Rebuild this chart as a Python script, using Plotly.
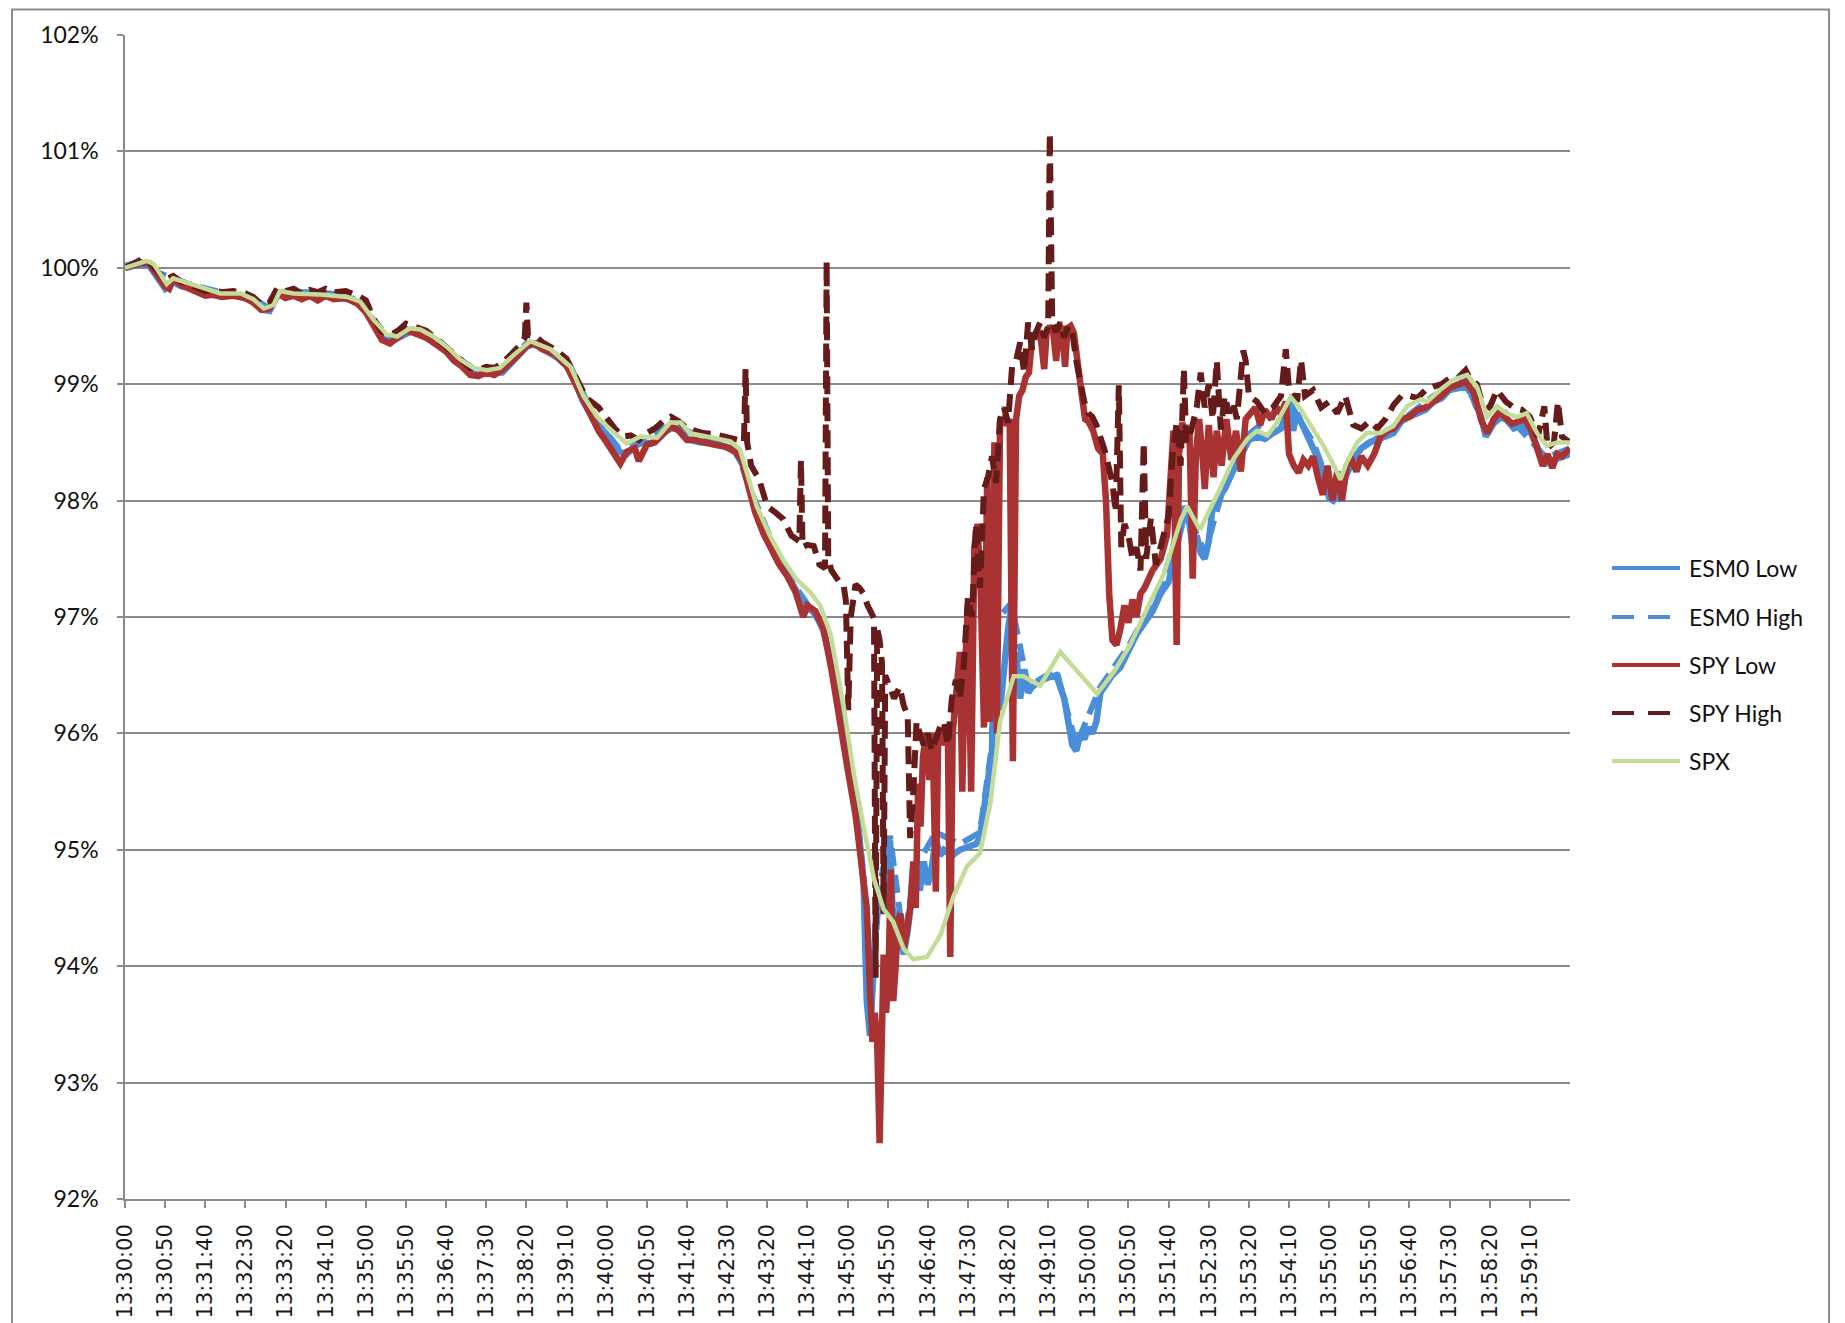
import plotly.graph_objects as go

START = "13:30:00"
TICK_LABELS = ["13:30:00", "13:30:50", "13:31:40", "13:32:30", "13:33:20", "13:34:10",
               "13:35:00", "13:35:50", "13:36:40", "13:37:30", "13:38:20", "13:39:10",
               "13:40:00", "13:40:50", "13:41:40", "13:42:30", "13:43:20", "13:44:10",
               "13:45:00", "13:45:50", "13:46:40", "13:47:30", "13:48:20", "13:49:10",
               "13:50:00", "13:50:50", "13:51:40", "13:52:30", "13:53:20", "13:54:10",
               "13:55:00", "13:55:50", "13:56:40", "13:57:30", "13:58:20", "13:59:10"]
END = "14:00:00"

# (seconds after 13:30:00, % of start level)
ESM0_LOW = [(0,100.00),(10,100.01),(20,100.03),(30,100.02),(40,99.93),(50,99.82),(60,99.88),(70,99.84),(80,99.83),(100,99.77),(120,99.76),(140,99.76),(160,99.71),(170,99.64),(180,99.63),(190,99.76),(200,99.77),(220,99.75),(240,99.76),(260,99.74),(280,99.73),(295,99.68),(310,99.52),(320,99.40),(330,99.36),(340,99.40),(355,99.45),(370,99.45),(385,99.37),(400,99.29),(415,99.19),(430,99.10),(440,99.08),(455,99.10),(470,99.10),(485,99.22),(500,99.32),(510,99.35),(525,99.28),(540,99.22),(555,99.12),(570,98.86),(585,98.68),(600,98.57),(615,98.42),(625,98.40),(635,98.47),(645,98.50),(655,98.49),(670,98.58),(680,98.62),(690,98.62),(700,98.53),(715,98.50),(730,98.49),(745,98.47),(760,98.42),(770,98.30),(780,98.05),(790,97.85),(800,97.68),(810,97.55),(820,97.42),(830,97.30),(840,97.18),(850,97.08),(860,97.03),(870,96.88),(880,96.60),(890,96.25),(900,95.90),(910,95.50),(915,95.10),(920,94.70),(924,93.70),(928,93.40),(932,93.90),(936,94.50),(940,94.60),(945,94.45),(950,94.70),(953,95.08),(956,94.50),(960,94.40),(965,94.30),(970,94.10),(975,94.30),(980,94.60),(985,94.80),(990,94.65),(995,94.90),(1000,94.70),(1005,94.85),(1010,95.10),(1015,94.95),(1020,95.00),(1030,94.95),(1040,95.00),(1050,95.02),(1060,95.05),(1065,95.10),(1070,95.35),(1075,95.60),(1080,95.85),(1083,96.90),(1086,96.40),(1090,96.20),(1095,96.60),(1100,96.90),(1104,97.08),(1107,96.50),(1110,96.70),(1115,96.30),(1120,96.55),(1125,96.35),(1130,96.40),(1140,96.45),(1150,96.48),(1160,96.50),(1165,96.40),(1170,96.30),(1175,96.10),(1180,95.90),(1185,95.85),(1190,96.00),(1195,95.95),(1200,96.05),(1205,96.00),(1210,96.10),(1215,96.35),(1220,96.40),(1230,96.50),(1240,96.57),(1250,96.70),(1260,96.85),(1270,96.95),(1280,97.05),(1290,97.20),(1300,97.30),(1310,97.60),(1320,97.90),(1325,97.85),(1330,97.60),(1335,97.70),(1340,97.55),(1345,97.50),(1350,97.65),(1355,97.95),(1360,98.00),(1370,98.10),(1380,98.25),(1390,98.40),(1400,98.52),(1410,98.55),(1420,98.53),(1430,98.58),(1440,98.62),(1450,98.80),(1455,98.60),(1460,98.75),(1470,98.60),(1480,98.45),(1490,98.30),(1495,98.18),(1500,98.02),(1505,98.00),(1510,98.05),(1515,98.00),(1520,98.20),(1530,98.35),(1540,98.45),(1550,98.50),(1560,98.52),(1570,98.55),(1580,98.58),(1590,98.68),(1600,98.72),(1610,98.75),(1620,98.78),(1630,98.85),(1640,98.88),(1650,98.95),(1660,98.97),(1670,98.98),(1680,98.90),(1690,98.70),(1695,98.55),(1700,98.60),(1710,98.72),(1720,98.70),(1730,98.62),(1740,98.65),(1750,98.60),(1760,98.45),(1770,98.32),(1780,98.35),(1790,98.38),(1800,98.40)]

ESM0_HIGH = [(0,100.02),(20,100.05),(40,99.96),(60,99.91),(80,99.86),(120,99.79),(160,99.74),(175,99.67),(190,99.79),(240,99.79),(280,99.76),(310,99.55),(330,99.39),(355,99.48),(385,99.40),(415,99.22),(440,99.11),(470,99.13),(500,99.35),(525,99.31),(555,99.15),(585,98.71),(615,98.45),(635,98.50),(680,98.65),(730,98.52),(760,98.45),(780,98.08),(810,97.58),(840,97.21),(870,96.91),(900,95.95),(920,94.80),(928,93.50),(940,94.70),(953,95.12),(970,94.20),(985,94.85),(1010,95.15),(1040,95.05),(1065,95.15),(1080,95.90),(1083,96.95),(1104,97.12),(1125,96.40),(1160,96.55),(1185,95.90),(1215,96.40),(1250,96.75),(1290,97.25),(1320,97.95),(1345,97.55),(1370,98.15),(1400,98.57),(1450,98.85),(1480,98.50),(1505,98.05),(1530,98.40),(1580,98.63),(1630,98.90),(1670,99.03),(1695,98.60),(1720,98.75),(1770,98.37),(1800,98.45)]

SPY_LOW = [(0,100.00),(10,100.02),(20,100.04),(30,100.04),(40,99.95),(50,99.84),(55,99.82),(60,99.90),(70,99.85),(80,99.82),(90,99.80),(100,99.76),(110,99.77),(120,99.75),(135,99.76),(150,99.74),(160,99.70),(170,99.64),(180,99.65),(190,99.78),(200,99.74),(210,99.76),(220,99.73),(230,99.76),(240,99.72),(250,99.76),(260,99.73),(275,99.74),(290,99.69),(300,99.62),(310,99.50),(320,99.38),(330,99.35),(340,99.40),(350,99.46),(360,99.44),(375,99.40),(390,99.33),(400,99.28),(410,99.20),(420,99.15),(430,99.08),(440,99.07),(450,99.10),(460,99.08),(470,99.12),(480,99.18),(490,99.25),(500,99.33),(510,99.35),(520,99.30),(535,99.26),(550,99.16),(565,98.95),(575,98.78),(590,98.60),(600,98.50),(610,98.40),(617,98.32),(625,98.42),(635,98.45),(640,98.34),(650,98.48),(660,98.50),(670,98.58),(680,98.64),(690,98.60),(700,98.52),(710,98.52),(720,98.50),(735,98.48),(750,98.46),(760,98.42),(768,98.35),(775,98.15),(785,97.90),(795,97.72),(805,97.58),(815,97.45),(825,97.35),(835,97.22),(845,97.00),(850,97.10),(860,97.05),(870,96.90),(880,96.55),(890,96.10),(900,95.70),(910,95.30),(920,94.80),(924,94.50),(928,93.80),(931,93.35),(934,93.60),(937,93.34),(940,92.48),(942,93.40),(945,94.10),(948,93.60),(951,93.90),(954,94.83),(957,93.70),(960,94.00),(963,94.40),(966,94.45),(970,94.15),(974,94.30),(978,94.50),(982,94.90),(985,94.50),(988,95.57),(991,95.20),(994,95.80),(998,96.00),(1002,95.60),(1006,96.00),(1010,94.64),(1013,95.95),(1017,96.05),(1021,95.90),(1025,96.00),(1028,94.08),(1031,96.00),(1035,96.40),(1040,96.70),(1043,95.50),(1046,96.50),(1050,97.10),(1054,95.50),(1058,97.60),(1062,97.80),(1066,97.20),(1070,96.05),(1074,98.20),(1077,96.10),(1080,96.60),(1083,98.50),(1086,96.00),(1090,98.67),(1094,98.70),(1098,98.65),(1102,98.70),(1106,95.76),(1110,98.70),(1114,98.90),(1118,98.95),(1122,99.06),(1126,99.10),(1130,99.40),(1135,99.44),(1140,99.44),(1145,99.13),(1148,99.44),(1152,99.50),(1156,99.46),(1160,99.20),(1163,99.45),(1167,99.50),(1171,99.15),(1174,99.48),(1178,99.50),(1182,99.44),(1188,99.05),(1192,98.90),(1196,98.70),(1200,98.68),(1206,98.60),(1212,98.45),(1218,98.40),(1222,98.00),(1226,97.20),(1230,96.80),(1235,96.76),(1240,96.90),(1245,97.10),(1250,96.95),(1255,97.15),(1260,97.00),(1265,97.20),(1270,97.25),(1280,97.40),(1290,97.50),(1298,97.70),(1302,98.30),(1306,98.60),(1310,96.76),(1313,98.40),(1317,98.67),(1322,98.50),(1326,98.60),(1330,97.33),(1334,98.40),(1338,98.70),(1342,98.40),(1345,98.10),(1350,98.65),(1356,98.20),(1360,98.60),(1366,98.30),(1372,98.70),(1378,98.35),(1384,98.60),(1390,98.25),(1396,98.70),(1402,98.75),(1408,98.80),(1414,98.65),(1420,98.78),(1428,98.70),(1434,98.80),(1440,98.75),(1446,98.85),(1450,98.40),(1456,98.30),(1462,98.24),(1468,98.35),(1474,98.30),(1480,98.38),(1486,98.20),(1492,98.05),(1498,98.30),(1504,98.00),(1510,98.25),(1516,98.00),(1522,98.30),(1528,98.35),(1534,98.25),(1540,98.38),(1548,98.30),(1556,98.40),(1564,98.55),(1572,98.60),(1580,98.62),(1590,98.70),(1600,98.72),(1610,98.78),(1620,98.80),(1630,98.85),(1640,98.90),(1650,98.97),(1660,99.00),(1670,99.02),(1680,98.93),(1690,98.68),(1697,98.58),(1705,98.70),(1712,98.76),(1720,98.70),(1728,98.66),(1736,98.68),(1744,98.70),(1752,98.60),(1760,98.44),(1766,98.30),(1772,98.40),(1778,98.28),(1784,98.40),(1790,98.38),(1800,98.45)]

SPY_HIGH = [(0,100.00),(10,100.04),(20,100.07),(30,100.05),(40,99.97),(50,99.90),(60,99.93),(70,99.88),(80,99.86),(90,99.83),(100,99.80),(110,99.81),(120,99.79),(135,99.80),(150,99.78),(160,99.75),(170,99.68),(180,99.70),(190,99.83),(200,99.80),(210,99.82),(220,99.78),(230,99.81),(240,99.79),(250,99.82),(260,99.79),(275,99.80),(290,99.76),(300,99.72),(310,99.56),(320,99.45),(330,99.42),(340,99.46),(350,99.52),(360,99.50),(375,99.46),(390,99.38),(400,99.32),(410,99.25),(420,99.19),(430,99.14),(440,99.12),(450,99.15),(460,99.14),(470,99.18),(480,99.25),(490,99.32),(498,99.40),(500,99.70),(502,99.42),(510,99.42),(520,99.36),(535,99.30),(550,99.22),(565,99.02),(575,98.88),(590,98.80),(600,98.70),(610,98.62),(620,98.55),(630,98.56),(640,98.52),(650,98.58),(660,98.62),(670,98.68),(680,98.72),(690,98.68),(700,98.62),(710,98.60),(720,98.58),(735,98.57),(750,98.55),(765,98.52),(771,98.50),(773,99.13),(775,98.50),(780,98.30),(790,98.18),(800,97.95),(810,97.90),(820,97.84),(830,97.70),(840,97.65),(842,98.35),(844,97.60),(850,97.62),(858,97.61),(865,97.45),(872,97.42),(874,100.06),(876,97.50),(880,97.40),(885,97.35),(890,97.30),(895,97.28),(898,97.14),(901,96.20),(904,97.00),(910,97.28),(915,97.25),(920,97.20),(925,97.10),(933,96.99),(935,93.90),(937,96.90),(940,96.80),(943,96.60),(945,94.45),(947,96.50),(952,96.40),(958,96.30),(965,96.40),(970,96.24),(975,96.15),(978,95.10),(982,95.50),(986,96.10),(990,96.00),(995,95.90),(1000,96.00),(1005,95.85),(1010,95.95),(1015,96.05),(1020,96.10),(1025,95.90),(1030,96.30),(1035,96.46),(1040,96.30),(1045,96.60),(1050,97.17),(1055,97.00),(1060,97.80),(1065,97.25),(1070,98.10),(1075,98.20),(1080,98.38),(1085,98.15),(1090,98.70),(1095,98.80),(1100,98.67),(1105,99.15),(1110,99.20),(1115,99.36),(1120,99.10),(1125,99.53),(1130,99.30),(1135,99.45),(1140,99.53),(1145,99.40),(1150,99.50),(1152,101.16),(1155,99.52),(1160,99.45),(1165,99.53),(1170,99.40),(1175,99.50),(1180,99.45),(1185,99.20),(1190,99.00),(1195,98.85),(1200,98.75),(1205,98.72),(1210,98.65),(1215,98.55),(1220,98.44),(1225,98.30),(1230,98.15),(1234,97.90),(1238,98.99),(1241,97.60),(1245,97.80),(1250,97.70),(1255,97.50),(1260,97.60),(1265,97.40),(1269,98.50),(1272,97.50),(1278,97.85),(1284,97.45),(1290,97.60),(1296,97.80),(1300,97.87),(1305,98.40),(1310,98.67),(1315,98.30),(1319,99.13),(1322,98.50),(1328,98.60),(1335,98.80),(1340,99.10),(1345,98.80),(1350,99.00),(1355,98.70),(1360,99.20),(1365,98.61),(1370,98.90),(1375,98.75),(1380,98.85),(1385,98.70),(1390,99.00),(1393,99.29),(1396,99.20),(1400,98.90),(1410,98.85),(1420,98.75),(1430,98.80),(1440,98.90),(1446,99.30),(1450,98.95),(1460,98.85),(1465,99.21),(1470,98.90),(1480,98.95),(1490,98.80),(1500,98.85),(1510,98.75),(1520,98.90),(1530,98.65),(1540,98.62),(1550,98.68),(1560,98.62),(1570,98.70),(1580,98.82),(1590,98.90),(1600,98.90),(1610,98.88),(1620,98.95),(1630,98.98),(1640,99.00),(1650,99.05),(1660,99.05),(1670,99.12),(1675,99.05),(1684,99.00),(1690,98.85),(1700,98.80),(1709,98.95),(1720,98.85),(1730,98.80),(1740,98.78),(1750,98.72),(1760,98.55),(1768,98.81),(1772,98.45),(1780,98.50),(1785,98.85),(1790,98.55),(1800,98.50)]

SPX = [(0,100.00),(15,100.03),(27,100.06),(36,100.03),(52,99.86),(60,99.91),(77,99.87),(102,99.81),(119,99.78),(144,99.78),(160,99.73),(173,99.65),(185,99.68),(193,99.80),(210,99.78),(243,99.77),(277,99.75),(293,99.71),(310,99.55),(326,99.43),(339,99.41),(355,99.48),(368,99.47),(384,99.41),(401,99.32),(418,99.21),(434,99.14),(451,99.12),(467,99.14),(484,99.25),(505,99.37),(530,99.30),(555,99.15),(571,98.90),(588,98.72),(605,98.61),(625,98.49),(642,98.55),(663,98.54),(679,98.67),(692,98.67),(704,98.58),(729,98.54),(754,98.51),(766,98.44),(775,98.24),(787,97.95),(804,97.69),(820,97.49),(837,97.32),(854,97.21),(866,97.10),(879,96.85),(895,96.24),(908,95.65),(920,95.20),(933,94.75),(945,94.49),(957,94.38),(970,94.15),(982,94.06),(999,94.08),(1016,94.27),(1032,94.60),(1049,94.86),(1065,94.97),(1078,95.40),(1090,96.10),(1107,96.49),(1119,96.49),(1140,96.41),(1165,96.70),(1182,96.57),(1198,96.45),(1211,96.34),(1232,96.53),(1252,96.76),(1273,97.07),(1294,97.37),(1315,97.83),(1323,97.95),(1339,97.75),(1352,97.93),(1364,98.10),(1381,98.36),(1398,98.53),(1410,98.60),(1423,98.56),(1435,98.67),(1452,98.89),(1464,98.79),(1477,98.64),(1493,98.47),(1506,98.30),(1514,98.18),(1522,98.33),(1535,98.50),(1547,98.58),(1564,98.58),(1580,98.64),(1597,98.81),(1614,98.87),(1622,98.85),(1638,98.95),(1655,99.04),(1672,99.08),(1684,98.98),(1697,98.72),(1709,98.81),(1721,98.75),(1734,98.72),(1746,98.75),(1759,98.58),(1771,98.47),(1784,98.50),(1800,98.50)]

SERIES_NAMES = ["ESM0 Low", "ESM0 High", "SPY Low", "SPY High", "SPX"]
SERIES_DATA = [ESM0_LOW, ESM0_HIGH, SPY_LOW, SPY_HIGH, SPX]
COLORS = ["#4a8ed9", "#4a8ed9", "#a93232", "#661b1b", "#c3dc97"]
DASHES = ["solid", "18px,9px", "solid", "18px,9px", "solid"]
WIDTHS = [6.5, 6, 6.5, 6, 4.5]
LEGEND_DASHES = ["solid", "22px,14px", "solid", "22px,14px", "solid"]


def secs(label):
    h, m, s = map(int, label.split(":"))
    h0, m0, s0 = map(int, START.split(":"))
    return (h * 3600 + m * 60 + s) - (h0 * 3600 + m0 * 60 + s0)


W, H = 1845, 1323
OFF = 8  # page body margin in the browser
PLOT_L, PLOT_R, PLOT_T, PLOT_B = 125, 1570, 35, 1199  # plot area in page pixels
ML, MT = PLOT_L - OFF, PLOT_T - OFF
MR, MB = W - (PLOT_R - OFF), H - (PLOT_B - OFF)
PW, PH = PLOT_R - PLOT_L, PLOT_B - PLOT_T


def px_x(x):
    return (x - PLOT_L) / PW


def px_y(y):
    return 1 - (y - PLOT_T) / PH


fig = go.Figure()
for name, data, col, dash, wd in zip(SERIES_NAMES, SERIES_DATA, COLORS, DASHES, WIDTHS):
    t = [p[0] for p in data]
    v = [p[1] for p in data]
    fig.add_trace(go.Scatter(x=t, y=v, mode="lines", name=name, showlegend=False,
                             line=dict(color=col, width=wd, dash=dash)))

GRID = "#8a8a8a"
fig.update_layout(
    width=W, height=H,
    margin=dict(l=ML, r=MR, t=MT, b=MB, autoexpand=False),
    paper_bgcolor="white", plot_bgcolor="white",
    showlegend=False,
    xaxis=dict(range=[0, secs(END)], tickvals=[secs(l) for l in TICK_LABELS], ticktext=TICK_LABELS,
               tickangle=-90, ticks="outside", ticklen=7, tickcolor=GRID, tickwidth=1.5,
               showline=True, linecolor=GRID, linewidth=1.5, showgrid=False, zeroline=False,
               tickfont=dict(family="DejaVu Sans", size=21, color="#1a1a1a"), ticklabelstandoff=8),
    yaxis=dict(range=[92, 102], dtick=1, tick0=92, ticksuffix="%", ticks="outside", ticklen=6,
               tickcolor=GRID, tickwidth=1.5, showline=True, linecolor=GRID, linewidth=1.5,
               showgrid=True, gridcolor=GRID, gridwidth=1.5, zeroline=False,
               tickfont=dict(family="Lato", size=23, color="#111111"), ticklabelstandoff=14),
)

shapes = [dict(type="rect", xref="paper", yref="paper", x0=px_x(12), x1=px_x(1829),
               y0=px_y(1400), y1=px_y(9.5), line=dict(color="#8c8c8c", width=2), layer="below")]
annotations = []
LEG_Y = [568, 617, 665, 713, 761]
for name, col, dash, ly in zip(SERIES_NAMES, COLORS, LEGEND_DASHES, LEG_Y):
    shapes.append(dict(type="line", xref="paper", yref="paper", x0=px_x(1612), x1=px_x(1680),
                       y0=px_y(ly), y1=px_y(ly), line=dict(color=col, width=4, dash=dash)))
    annotations.append(dict(xref="paper", yref="paper", x=px_x(1687), y=px_y(ly), text=name,
                            showarrow=False, xanchor="left", yanchor="middle",
                            font=dict(family="Lato", size=23, color="#111111")))
fig.update_layout(shapes=shapes, annotations=annotations)

fig.write_html("out.html")
